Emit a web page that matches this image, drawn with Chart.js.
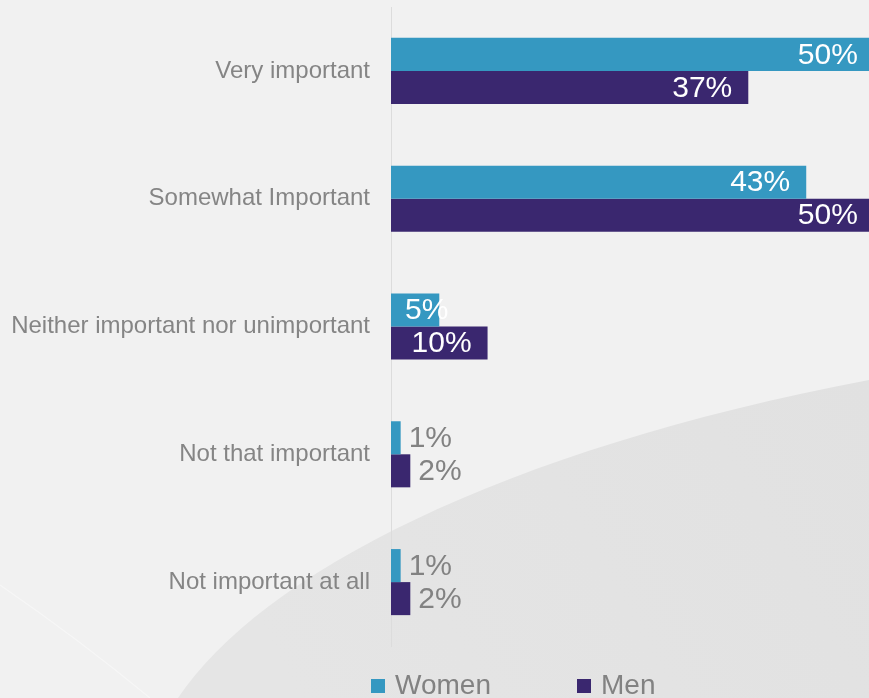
<!DOCTYPE html>
<html>
<head>
<meta charset="utf-8">
<script src="https://cdn.jsdelivr.net/npm/chart.js@4"></script>
<style>
  html, body { margin: 0; padding: 0; overflow: hidden; background: #f0f0f0; }
  #wrap { width: 869px; height: 698px; position: relative; }
</style>
</head>
<body>
<div id="wrap"><canvas id="importanceChart" width="869" height="698"></canvas></div>
<script>
'use strict';

// survey answers, in display order
const categories = ['Very important', 'Somewhat Important', 'Neither important nor unimportant', 'Not that important', 'Not important at all'];
const womenValues = [50, 43, 5, 1, 1];
const menValues = [37, 50, 10, 2, 2];
const seriesNames = ['Women', 'Men'];
const seriesColors = ['#3598c1', '#3a276f'];

const FONT = '"Liberation Sans", Arial, sans-serif';

// light backdrop with the darker sweep in the lower right
const backdrop = {
  id: 'backdrop',
  beforeDraw(chart) {
    const ctx = chart.ctx;
    const w = chart.width, h = chart.height;
    ctx.save();
    ctx.fillStyle = '#f1f1f1';
    ctx.fillRect(0, 0, w, h);

    const g = ctx.createLinearGradient(300, 698, 869, 380);
    g.addColorStop(0, '#e5e5e5');
    g.addColorStop(1, '#e1e1e1');
    ctx.fillStyle = g;
    ctx.beginPath();
    ctx.moveTo(178, h);
    ctx.bezierCurveTo(260, 575, 500, 450, w, 380);
    ctx.lineTo(w, h);
    ctx.closePath();
    ctx.fill();

    // faint paper fold on the left
    ctx.strokeStyle = 'rgba(255,255,255,0.4)';
    ctx.lineWidth = 1.2;
    ctx.beginPath();
    ctx.moveTo(0, 585);
    ctx.quadraticCurveTo(80, 640, 150, h);
    ctx.stroke();
    ctx.restore();
  }
};

// percentage labels: white inside big bars, grey after small ones
const valueLabels = {
  id: 'valueLabels',
  afterDatasetsDraw(chart) {
    const ctx = chart.ctx;
    ctx.save();
    ctx.font = '30px ' + FONT;
    ctx.textBaseline = 'middle';
    ctx.textAlign = 'left';
    chart.data.datasets.forEach((ds, i) => {
      chart.getDatasetMeta(i).data.forEach((bar, j) => {
        const v = ds.data[j];
        const text = v + '%';
        const tw = ctx.measureText(text).width;
        let x;
        if (v >= 5) {
          ctx.fillStyle = '#ffffff';
          x = Math.max(bar.x - 16 - tw, bar.base + 14);
        } else {
          ctx.fillStyle = '#828282';
          x = bar.x + 8;
        }
        ctx.fillText(text, x, bar.y + 1);
      });
    });
    ctx.restore();
  }
};

// legend along the bottom edge
const bottomLegend = {
  id: 'bottomLegend',
  afterDraw(chart) {
    const ctx = chart.ctx;
    const xs = [371, 577];
    ctx.save();
    ctx.font = '28px ' + FONT;
    ctx.textBaseline = 'alphabetic';
    chart.data.datasets.forEach((ds, i) => {
      ctx.fillStyle = ds.backgroundColor;
      ctx.fillRect(xs[i], 679, 14, 14);
      ctx.fillStyle = '#828282';
      ctx.fillText(ds.label, xs[i] + 24, 694);
    });
    ctx.restore();
  }
};

window.onload = function () {
  let context = document.getElementById('importanceChart').getContext('2d');

  new Chart(context, {
    type: 'bar',
    data: {
      labels: categories,
      datasets: [{
        label: seriesNames[0],
        data: womenValues,
        backgroundColor: seriesColors[0],
      }, {
        label: seriesNames[1],
        data: menValues,
        backgroundColor: seriesColors[1],
      }],
    },
    options: {
      indexAxis: 'y',
      responsive: false,
      animation: false,
      categoryPercentage: 0.517,
      barPercentage: 1,
      layout: {
        padding: { left: 12, top: 7, right: 0, bottom: 52 },
      },
      scales: {
        x: {
          min: 0,
          max: 49.5,
          display: false,
        },
        y: {
          grid: { display: false, drawTicks: false },
          border: { display: true, color: '#dcdcdc', width: 1 },
          ticks: {
            color: '#858585',
            font: { family: FONT, size: 24 },
            padding: 21,
          },
          afterFit(scale) {
            scale.width = 379;
            scale.paddingTop = 0;
            scale.paddingBottom = 0;
          },
        },
      },
      plugins: {
        legend: { display: false },
        tooltip: { enabled: false },
      },
    },
    plugins: [backdrop, valueLabels, bottomLegend],
  });
};
</script>
</body>
</html>
